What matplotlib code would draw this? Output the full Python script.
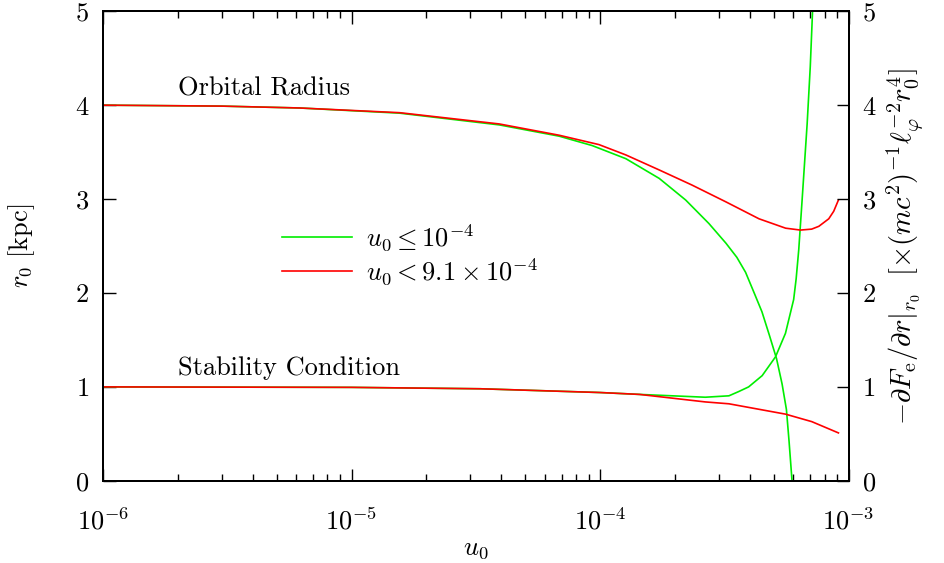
import numpy as np
import matplotlib
matplotlib.use("Agg")
import matplotlib.pyplot as plt
from matplotlib.ticker import LogLocator, NullFormatter

plt.rcParams['font.family'] = ['cmr10', 'DejaVu Serif']
plt.rcParams['mathtext.fontset'] = 'cm'
plt.rcParams['axes.formatter.use_mathtext'] = True
plt.rcParams['font.size'] = 19

# orbital radius, green series (u0 <= 1e-4)
u_orb_g = [1e-6, 3e-6, 6.18e-6, 1.56e-5, 3.93e-5, 6.84e-5, 9.29e-5, 1.27e-4, 1.73e-4,
           2.21e-4, 2.74e-4, 3.21e-4, 3.55e-4, 3.85e-4, 4.2e-4, 4.48e-4, 4.8e-4,
           5.13e-4, 5.4e-4, 5.62e-4, 5.76e-4, 5.92e-4]
r_orb_g = [4.0, 3.99, 3.97, 3.915, 3.79, 3.67, 3.57, 3.43, 3.22,
           2.99, 2.74, 2.53, 2.38, 2.22, 1.98, 1.80, 1.55,
           1.30, 1.03, 0.76, 0.42, 0.0]

# orbital radius, red series (u0 < 9.1e-4)
u_orb_r = [1e-6, 3e-6, 6.18e-6, 1.56e-5, 3.93e-5, 6.84e-5, 9.9e-5, 1.27e-4, 1.73e-4,
           2.34e-4, 3.21e-4, 4.36e-4, 5.58e-4, 6.4e-4, 7.1e-4, 7.59e-4, 8.32e-4, 8.71e-4, 9.1e-4]
r_orb_r = [4.0, 3.99, 3.97, 3.92, 3.80, 3.68, 3.58, 3.47, 3.31,
           3.15, 2.97, 2.79, 2.69, 2.67, 2.68, 2.71, 2.79, 2.87, 2.99]

# stability condition, green
u_st_g = [1e-6, 1e-5, 3.3e-5, 1e-4, 1.44e-4, 2.65e-4, 3.3e-4, 3.61e-4, 3.96e-4, 4.49e-4,
          5.08e-4, 5.57e-4, 6.01e-4, 6.15e-4, 6.30e-4, 6.50e-4, 6.81e-4, 7.01e-4, 7.16e-4]
s_st_g = [1.0, 0.995, 0.98, 0.94, 0.92, 0.89, 0.905, 0.95, 1.0, 1.12,
          1.32, 1.57, 1.93, 2.15, 2.46, 2.99, 3.80, 4.41, 5.0]

# stability condition, red
u_st_r = [1e-6, 1e-5, 3.3e-5, 1e-4, 1.44e-4, 2.65e-4, 3.3e-4, 5.57e-4, 7.11e-4, 9.1e-4]
s_st_r = [1.0, 0.995, 0.98, 0.94, 0.92, 0.84, 0.82, 0.71, 0.63, 0.51]

fig = plt.figure(figsize=(9.45, 5.63), dpi=100)
ax = fig.add_axes([0.109, 0.146, 0.789, 0.834])
ax2 = ax.twinx()

green = '#00ee00'
red = '#ff0000'
ax.plot(u_orb_g, r_orb_g, color=green, lw=1.2, label=r'$u_0 \leq 10^{-4}$')
ax.plot(u_st_g, s_st_g, color=green, lw=1.2)
ax.plot(u_orb_r, r_orb_r, color=red, lw=1.2, label=r'$u_0 < 9.1\times10^{-4}$')
ax.plot(u_st_r, s_st_r, color=red, lw=1.2)

ax.set_xscale('log')
ax.set_xlim(1e-6, 1e-3)
ax.set_ylim(0, 5)
ax2.set_ylim(0, 5)
ax.xaxis.set_major_locator(LogLocator(base=10, numticks=10))
ax.xaxis.set_minor_locator(LogLocator(base=10, subs=np.arange(2, 10), numticks=10))
ax.xaxis.set_minor_formatter(NullFormatter())
ax.set_yticks([0, 1, 2, 3, 4, 5])
ax2.set_yticks([0, 1, 2, 3, 4, 5])

ax.tick_params(which='both', direction='in', top=True, right=False, labelsize=19, width=1)
ax.tick_params(which='major', length=9)
ax.tick_params(which='minor', length=5)
ax.tick_params(axis='x', pad=19)
ax.tick_params(axis='y', pad=10)
ax2.tick_params(direction='in', length=9, width=1, labelsize=19, pad=10)
for s in ax.spines.values():
    s.set_linewidth(1.4)
for s in ax2.spines.values():
    s.set_linewidth(1.4)

ax.set_xlabel(r'$u_0$', fontsize=19, labelpad=2)
ax.set_ylabel(r'$r_0\ \mathrm{[kpc]}$', fontsize=19, labelpad=27)
ax2.set_ylabel(r'$-\partial F_\mathrm{e}/\partial r|_{r_0}\ \ [\times(mc^2)^{-1}\ell_\varphi^{-2}r_0^4]$',
               fontsize=20.5, labelpad=6)

ax.text(2.0e-6, 4.10, 'Orbital Radius', fontsize=19, ha='left', va='baseline')
ax.text(2.0e-6, 1.13, 'Stability Condition', fontsize=19, ha='left', va='baseline')

ax.legend(loc='upper left', bbox_to_anchor=(0.24, 0.551), frameon=False,
          fontsize=19, handlelength=2.65, handletextpad=0.55, labelspacing=0.15,
          borderpad=0, borderaxespad=0)

fig.savefig('out.png', dpi=100)
